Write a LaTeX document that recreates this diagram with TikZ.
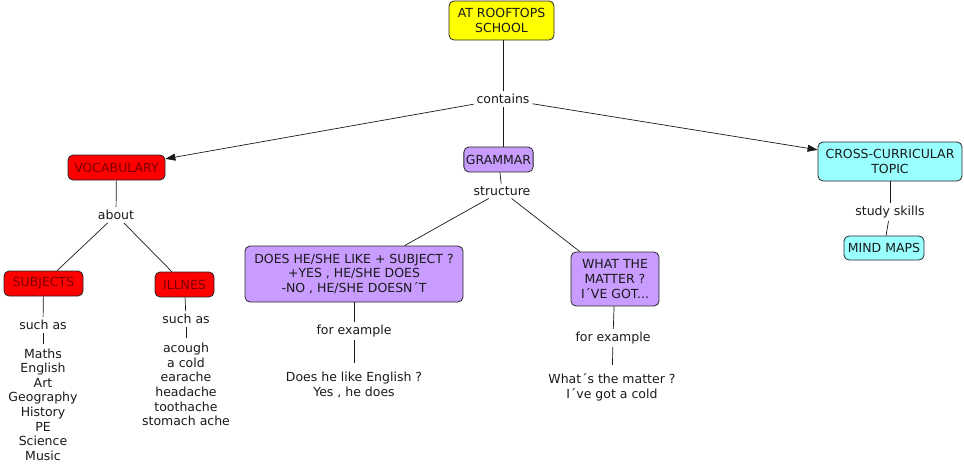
\documentclass[tikz,border=0pt]{standalone}
\usepackage{fontspec}
\setmainfont{DejaVu Sans}
\usetikzlibrary{arrows.meta}
\definecolor{cyel}{HTML}{FFFF00}
\definecolor{cred}{HTML}{FF0000}
\definecolor{cpur}{HTML}{C99CFF}
\definecolor{ccya}{HTML}{99FFFF}
\definecolor{dred}{HTML}{7A0000}
\definecolor{ctxt}{HTML}{1A1A1A}
\begin{document}
\begin{tikzpicture}[x=1pt,y=-1pt,
  every node/.style={font=\fontsize{12.5}{14.6}\selectfont, text=ctxt, align=center},
  concept/.style={draw=black!85, line width=0.8pt, rounded corners=5pt, inner sep=2pt},
  yel/.style={concept, fill=cyel},
  red/.style={concept, fill=cred, text=dred},
  pur/.style={concept, fill=cpur},
  cya/.style={concept, fill=ccya},
  link/.style={inner sep=1pt, outer sep=2pt},
  lst/.style={inner sep=1pt, outer sep=4pt},
  conn/.style={line width=0.7pt, draw=black!90},
  arr/.style={conn, -{Triangle[length=10pt,width=7pt]}}]
\useasboundingbox (0,0) rectangle (964,471);
\fill[white] (0,0) rectangle (964,471);
% concepts
\node[yel, minimum width=105pt, minimum height=39pt] (roof) at (501.5,20.5) {AT ROOFTOPS\\SCHOOL};
\node[red, minimum width=97pt, minimum height=25pt] (voc) at (116.5,167.5) {VOCABULARY};
\node[pur, minimum width=69pt, minimum height=25pt] (gram) at (498.5,159.5) {GRAMMAR};
\node[cya, minimum width=144pt, minimum height=39pt] (cross) at (890,161.5) {CROSS-CURRICULAR\\TOPIC};
\node[red, minimum width=79pt, minimum height=25pt] (subj) at (43.5,283.5) {SUBJECTS};
\node[red, minimum width=59pt, minimum height=25pt] (ill) at (184.5,284.5) {ILLNES};
\node[pur, minimum width=218pt, minimum height=56pt] (does) at (354,274) {DOES HE/SHE LIKE + SUBJECT ?\\+YES , HE/SHE DOES\\-NO , HE/SHE DOESN´T};
\node[pur, minimum width=88pt, minimum height=54pt] (what) at (615,279) {WHAT THE\\MATTER ?\\I´VE GOT...};
\node[cya, minimum width=80pt, minimum height=24pt] (mind) at (884,248) {MIND MAPS};
% linking phrases
\node[link] (contains) at (503,99) {contains};
\node[link] (structure) at (502,191) {structure};
\node[link] (about) at (116,215) {about};
\node[link] (sal) at (43,325) {such as};
\node[link] (sar) at (186,319) {such as};
\node[link] (fel) at (354,331) {for example};
\node[link] (fer) at (613,338) {for example};
\node[link] (study) at (890,212) {study skills};
% lists / examples
\node[lst] (subjlist) at (43,404.5) {Maths\\English\\Art\\Geography\\History\\PE\\Science\\Music};
\node[lst] (illlist) at (186,384.5) {acough\\a cold\\earache\\headache\\toothache\\stomach ache};
\node[lst, outer sep=8pt] (doesex) at (354,385) {Does he like English ?\\Yes , he does};
\node[lst, outer sep=8pt] (whatex) at (612,387.5) {What´s the matter ?\\I´ve got a cold};
% connectors
\draw[conn] (roof.south -| contains) -- (contains);
\draw[arr] (contains) -- (voc);
\draw[arr] (contains) -- (cross);
\draw[conn] (contains) -- (contains |- gram.north);
\draw[conn] (gram) -- (structure);
\draw[conn] (structure) -- (does);
\draw[conn] (structure) -- (what);
\draw[conn] (voc) -- (about);
\draw[conn] (about) -- (subj);
\draw[conn] (about) -- (ill);
\draw[conn] (subj) -- (sal);
\draw[conn] (sal) -- (subjlist);
\draw[conn] (ill) -- (sar);
\draw[conn] (sar) -- (illlist);
\draw[conn] (does) -- (fel);
\draw[conn] (fel) -- (doesex);
\draw[conn] (what) -- (fer);
\draw[conn] (fer) -- (whatex);
\draw[conn] (cross) -- (study);
\draw[conn] (study) -- (mind);
\end{tikzpicture}
\end{document}
